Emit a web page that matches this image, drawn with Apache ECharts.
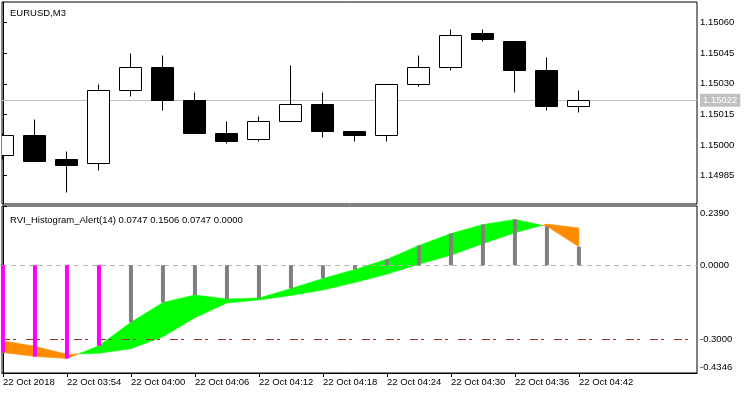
<!DOCTYPE html>
<html>
<head>
<meta charset="utf-8">
<script src="https://cdn.jsdelivr.net/npm/echarts@6/dist/echarts.min.js"></script>
<style>
html,body{margin:0;padding:0;background:#fff;}
#c{width:750px;height:394px;}
</style>
</head>
<body>
<div id="c"></div>
<script>
// ---- data ----
const barTimes = ['03:48','03:51','03:54','03:57','04:00','04:03','04:06','04:09','04:12','04:15','04:18','04:21','04:24','04:27','04:30','04:33','04:36','04:39','04:42'];
const openP  = [1.14995,1.15005,1.14993,1.14991,1.15027,1.15038,1.15022,1.15006,1.15003,1.15012,1.15020,1.15007,1.15005,1.15030,1.15038,1.15055,1.15051,1.15037,1.15019];
const closeP = [1.15005,1.14992,1.14990,1.15027,1.15038,1.15022,1.15006,1.15002,1.15012,1.15020,1.15007,1.15005,1.15030,1.15038,1.15054,1.15052,1.15037,1.15019,1.15022];
const lowP   = [1.14993,1.14992,1.14977,1.14988,1.15024,1.15017,1.15006,1.15001,1.15002,1.15012,1.15004,1.15002,1.15002,1.15029,1.15037,1.15051,1.15026,1.15017,1.15016];
const highP  = [1.15006,1.15013,1.14997,1.15030,1.15045,1.15044,1.15026,1.15012,1.15014,1.15039,1.15026,1.15007,1.15030,1.15044,1.15057,1.15057,1.15051,1.15043,1.15027];
const rviMain   = [-0.352,-0.368,-0.376,-0.325,-0.230,-0.150,-0.120,-0.136,-0.132,-0.094,-0.053,-0.017,0.024,0.080,0.128,0.164,0.185,0.157,0.0747];
const rviSignal = [-0.305,-0.327,-0.359,-0.355,-0.337,-0.288,-0.212,-0.152,-0.140,-0.122,-0.100,-0.070,-0.036,0.004,0.040,0.087,0.131,0.166,0.1506];
const timeTickIdx = [0,2,4,6,8,10,12,14,16,18];
const timeTickLabels = ['22 Oct 2018','22 Oct 03:54','22 Oct 04:00','22 Oct 04:06','22 Oct 04:12','22 Oct 04:18','22 Oct 04:24','22 Oct 04:30','22 Oct 04:36','22 Oct 04:42'];
const priceTicks = [1.14985,1.15000,1.15015,1.15030,1.15045,1.15060];
const rviTicks = [0.2390,0.0000,-0.3000,-0.4346];
const rviLevels = [0,-0.3];
const currentPrice = 1.15022;
const chartTitle = 'EURUSD,M3';
const indName = 'RVI_Histogram_Alert(14)';
const indValues = [0.0747,0.1506,0.0747,0.0000];

const PRICE_MIN = 1.149711, PRICE_MAX = 1.150701;
const RVI_MIN = -0.4346, RVI_MAX = 0.2390;
const XMIN = -0.03, XMAX = 21.69;

const chart = echarts.init(document.getElementById('c'), null, {renderer:'canvas'});
const FONT = '"Liberation Sans", Arial, sans-serif';
const FS = 9.5;

function candleItem(params, api){
  const x = api.value(0), o = api.value(1), c = api.value(2), l = api.value(3), h = api.value(4);
  const pO = api.coord([x,o]), pC = api.coord([x,c]), pL = api.coord([x,l]), pH = api.coord([x,h]);
  const cx = Math.floor(pO[0]) + 0.5;
  const w = 22;
  const top = Math.round(Math.min(pO[1],pC[1])) + 0.5;
  const bot = Math.round(Math.max(pO[1],pC[1])) + 0.5;
  const bull = c >= o;
  return {
    type:'group',
    children:[
      {type:'line', shape:{x1:cx,y1:Math.round(pH[1])+0.5,x2:cx,y2:Math.round(pL[1])+0.5}, style:{stroke:'#000',lineWidth:1}},
      {type:'rect', shape:{x:cx-11,y:top,width:w,height:Math.max(bot-top,1)}, style:{fill: bull?'#fff':'#000', stroke:'#000', lineWidth:1}}
    ]
  };
}

function bandItem(params, api){
  const i = api.value(0);
  if (i >= rviMain.length-1) return null;
  const a0 = rviMain[i], b0 = rviSignal[i], a1 = rviMain[i+1], b1 = rviSignal[i+1];
  const d0 = a0-b0, d1 = a1-b1;
  const GREEN = '#00ff00', ORANGE = '#ff8c00';
  const polys = [];
  if (d0*d1 >= 0){
    const up = (d0+d1) >= 0;
    polys.push({pts:[[i,a0],[i+1,a1],[i+1,b1],[i,b0]], color: up?GREEN:ORANGE});
  } else {
    const t = d0/(d0-d1);
    const xc = i+t, yc = a0 + t*(a1-a0);
    polys.push({pts:[[i,a0],[xc,yc],[i,b0]], color: d0>0?GREEN:ORANGE});
    polys.push({pts:[[xc,yc],[i+1,a1],[i+1,b1]], color: d1>0?GREEN:ORANGE});
  }
  return {
    type:'group',
    children: polys.map(p => ({
      type:'polygon',
      shape:{points: p.pts.map(q => api.coord(q))},
      style:{fill:p.color, stroke:p.color, lineWidth:0.5}
    }))
  };
}

const option = {
  animation:false,
  backgroundColor:'#fff',
  textStyle:{fontFamily:FONT},
  title:[
    {text:chartTitle, left:5, top:3, textStyle:{fontSize:FS, fontWeight:'normal', color:'#000', fontFamily:FONT}},
    {text: indName + ' ' + indValues.map(v=>v.toFixed(4)).join(' '), left:5, top:210, textStyle:{fontSize:FS, fontWeight:'normal', color:'#000', fontFamily:FONT}}
  ],
  grid:[
    {left:2, top:2, right:53, height:202, show:true, borderColor:'#000', borderWidth:1, backgroundColor:'transparent', outerBoundsMode:'none', containLabel:false},
    {left:2, top:206, right:53, height:167, show:true, borderColor:'#000', borderWidth:1, backgroundColor:'transparent', outerBoundsMode:'none', containLabel:false}
  ],
  xAxis:[
    {type:'value', gridIndex:0, min:XMIN, max:XMAX, axisLine:{show:false}, axisTick:{show:false}, axisLabel:{show:false}, splitLine:{show:false}},
    {type:'value', gridIndex:1, min:XMIN, max:XMAX, position:'bottom',
      axisLine:{show:true, onZero:false, lineStyle:{color:'#000'}},
      axisTick:{show:true, length:4, lineStyle:{color:'#000'}, customValues: timeTickIdx},
      axisLabel:{show:true, customValues: timeTickIdx, align:'left', margin:4, fontSize:FS, color:'#000', fontFamily:FONT,
        formatter: v => { const k = timeTickIdx.indexOf(Math.round(v)); return k>=0 ? timeTickLabels[k] : ''; }},
      splitLine:{show:false}}
  ],
  yAxis:[
    {type:'value', gridIndex:0, position:'right', min:PRICE_MIN, max:PRICE_MAX, scale:true,
      axisLine:{show:true, lineStyle:{color:'#000'}},
      axisTick:{show:true, length:4, lineStyle:{color:'#000'}, customValues: priceTicks},
      axisLabel:{show:true, customValues: priceTicks, margin:3, fontSize:FS, color:'#000', fontFamily:FONT, formatter: v => v.toFixed(5)},
      splitLine:{show:false}},
    {type:'value', gridIndex:1, position:'right', min:RVI_MIN, max:RVI_MAX,
      axisLine:{show:true, lineStyle:{color:'#000'}},
      axisTick:{show:true, length:4, lineStyle:{color:'#000'}, customValues: rviTicks},
      axisLabel:{show:true, customValues: rviTicks, margin:3, fontSize:FS, color:'#000', fontFamily:FONT,
        formatter: v => {
          if (Math.abs(v-RVI_MAX) < 1e-6) return '{t|' + v.toFixed(4) + '}';
          if (Math.abs(v-RVI_MIN) < 1e-6) return '{b|' + v.toFixed(4) + '}';
          return v.toFixed(4);
        },
        rich:{
          t:{padding:[14,0,0,0], fontSize:FS, color:'#000', fontFamily:FONT},
          b:{padding:[0,0,12,0], fontSize:FS, color:'#000', fontFamily:FONT}
        }},
      splitLine:{show:false}}
  ],
  series:[
    {type:'line', xAxisIndex:0, yAxisIndex:0, data:[], z:1, silent:true,
      markLine:{symbol:'none', silent:true, animation:false, precision:5,
        lineStyle:{color:'#c0c0c0', type:'solid', width:1},
        label:{show:true, position:'end', distance:3, formatter: () => currentPrice.toFixed(5),
          backgroundColor:'#c0c0c0', color:'#fff', fontSize:FS, fontFamily:FONT, padding:[2,3,1,3]},
        data:[{yAxis:currentPrice}]}},
    {type:'custom', xAxisIndex:0, yAxisIndex:0, z:5, clip:true,
      renderItem: candleItem,
      data: openP.map((o,i)=>[i,o,closeP[i],lowP[i],highP[i]])},
    {type:'line', xAxisIndex:1, yAxisIndex:1, data:[], z:1, silent:true,
      markLine:{symbol:'none', silent:true, animation:false, precision:4, label:{show:false},
        data:[
          {yAxis:rviLevels[0], lineStyle:{color:'#b4b4b4', type:[5,4], width:1}},
          {yAxis:rviLevels[1], lineStyle:{color:'#993333', type:[8,3,3,10], width:1}}
        ]}},
    {type:'custom', xAxisIndex:1, yAxisIndex:1, z:3, clip:true,
      renderItem: bandItem,
      data: rviMain.map((v,i)=>[i,v,rviSignal[i]])},
    {type:'bar', xAxisIndex:1, yAxisIndex:1, z:6, barWidth:4, clip:true,
      data: rviMain.map((v,i)=>({value:[i,v], itemStyle:{color: v < rviLevels[1] ? '#ff00ff' : '#808080'}}))}
  ]
};
chart.setOption(option);
</script>
</body>
</html>
